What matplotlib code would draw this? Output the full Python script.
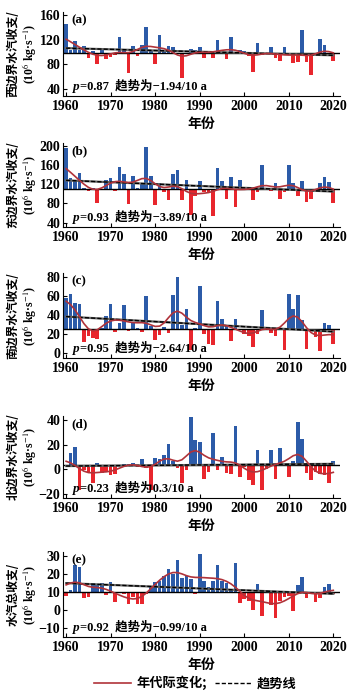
import numpy as np
import matplotlib
matplotlib.use('Agg')
import matplotlib.pyplot as plt
from matplotlib.lines import Line2D

plt.rcParams['font.family'] = ['Liberation Serif', 'Noto Sans CJK SC']
plt.rcParams['mathtext.fontset'] = 'stix'

years = np.arange(1960, 2021)

# boundary moisture budgets, 10^6 kg/s, 1960-2020
west = [146, 104, 118, 104, 110, 90, 101, 80, 104, 88,
        92, 95, 124, 104, 66, 110, 94, 111, 140, 104,
        80, 128, 101, 110, 108, 96, 58, 97, 105, 104,
        108, 91, 97, 90, 120, 99, 88, 125, 100, 103,
        102, 94, 67, 114, 95, 97, 108, 91, 86, 108,
        97, 82, 84, 135, 83, 63, 97, 121, 112, 99,
        85]
east = [195, 134, 128, 144, 112, 105, 112, 81, 110, 128,
        134, 105, 157, 142, 78, 137, 112, 120, 198, 138,
        76, 123, 104, 88, 142, 149, 87, 129, 55, 96,
        126, 104, 101, 53, 154, 126, 90, 135, 73, 128,
        112, 113, 88, 104, 161, 112, 106, 123, 90, 104,
        160, 122, 96, 127, 84, 90, 108, 122, 135, 124,
        80]
south = [58, 62, 52, 51, 12, 18, 16, 15, 26, 39,
         51, 22, 31, 50, 23, 33, 26, 22, 60, 28,
         14, 19, 27, 21, 61, 80, 29, 46, 3, 26,
         70, 20, 9, 8, 55, 36, 28, 13, 36, 24,
         20, 18, 6, 20, 45, 27, 21, 18, 26, 3,
         62, 46, 61, 35, 4, 23, 17, 2, 31, 29,
         9]
north = [3, 13, 18, -17, -1, -2, -11, 5, -3, -2,
         -5, -4, 3, 4.5, 4.5, 5.5, 2, 8.5, 1, -17,
         9, 8.5, 12, 21, 7, 1, -11, -1, 43, 24,
         22, -8, -2, 30, -1, 10, -3, -4, 35, -6,
         2, -9, -13, 16, -17, 0, 15.5, -8, 17.5, 3,
         -6, 7, 38.6, 24.6, -3, -9, -2, -4, -5, -11,
         7]
total = [8, 11, 25, 24, 6.5, 7, 15, 14, 15, 8.5,
         15.5, 4.5, 9.5, 9, 3.5, 7, 3.5, 3.5, 9, 13,
         15.5, 16, 19, 23, 20, 28, 18, 19, 17, 9,
         31, 16, 13, 16, 25, 16, 15, 11, 26, 4,
         6, 5, 0, 14.6, -3.5, 11, 3, -4.5, 5, 7,
         8, -0.5, 14, 18.5, 6.5, 10, 4.5, 6.5, 13, 14.5,
         9]

series = [west, east, south, north, total]
baselines = [98, 110, 25, 3.5, 10]
trend_slopes = [-1.94, -3.89, -2.64, 0.3, -0.99]   # per 10 a
trend_mid = [100.5, 116.5, 30.3, 3.5, 12]          # trend value at 1990
p_values = ['0.87', '0.93', '0.95', '0.23', '0.92']
panel_tags = ['(a)', '(b)', '(c)', '(d)', '(e)']
ylabels = ['西边界水汽收支/', '东边界水汽收支/', '南边界水汽收支/',
           '北边界水汽收支/', '水汽总收支/']
ylims = [(28.6, 165), (31, 206), (-5.3, 84), (-23.5, 43.5), (-15, 32.3)]
yticks = [[40, 80, 120, 160], [40, 80, 120, 160, 200], [0, 20, 40, 60, 80],
          [-20, 0, 20, 40], [-10, 0, 10, 20, 30]]

blue = '#2c5ba8'
red = '#e8262d'
curve_col = '#b0333a'

W, H = 355, 693
fig = plt.figure(figsize=(W / 100, H / 100), dpi=100)

# panel boxes in pixels (top, bottom)
boxes = [(12, 96), (143, 227), (273, 358), (416, 498), (552, 637)]
left_px, right_px = 63, 340


def smooth(v, sigma=2.0):
    v = np.asarray(v, float)
    out = np.empty_like(v)
    idx = np.arange(len(v))
    for i in idx:
        w = np.exp(-0.5 * ((idx - i) / sigma) ** 2)
        out[i] = np.sum(w * v) / np.sum(w)
    return out


for k in range(5):
    top, bot = boxes[k]
    ax = fig.add_axes([left_px / W, 1 - bot / H, (right_px - left_px) / W, (bot - top) / H])
    vals = np.asarray(series[k], float)
    base = baselines[k]
    cols = [blue if v >= base else red for v in vals]
    ax.bar(years, vals - base, bottom=base, width=0.82, color=cols, linewidth=0, zorder=2)
    ax.axhline(base, color='black', lw=1.0, zorder=3)
    trend = trend_mid[k] + trend_slopes[k] / 10 * (years - 1990)
    ax.plot(years, trend, color='#666666', lw=1.6, zorder=4)
    ax.plot(years, trend, color='black', lw=1.0, ls=(0, (3, 1.5)), zorder=4)
    ax.plot(years, smooth(vals), color=curve_col, lw=1.2, zorder=5)

    ax.set_xlim(1959.3, 2021.5)
    ax.set_ylim(*ylims[k])
    ax.set_yticks(yticks[k])
    ax.set_xticks([1960, 1970, 1980, 1990, 2000, 2010, 2020])
    for s in ['top', 'right']:
        ax.spines[s].set_visible(False)
    ax.tick_params(direction='in', length=3, width=0.8, pad=2)
    ax.tick_params(axis='x', pad=3)
    for lab in ax.get_xticklabels() + ax.get_yticklabels():
        lab.set_fontsize(10)
        lab.set_fontweight('bold')
        lab.set_family('Liberation Serif')

    ax.text(0.03, 0.97, panel_tags[k], transform=ax.transAxes, fontsize=9.5,
            fontweight='bold', va='top', ha='left', family='Liberation Serif')

    # p-value and trend note, italic p followed by plain text
    tp = ax.text(0.036, 0.04, 'p', transform=ax.transAxes, fontsize=9.5,
                 fontstyle='italic', fontweight='bold', va='bottom', ha='left',
                 family='Liberation Serif')
    note = '=' + p_values[k] + '  趋势为' + \
        ('−' if trend_slopes[k] < 0 else '') + f'{abs(trend_slopes[k])}/10 a'
    ax.annotate(note, xy=(1, 0), xycoords=tp, xytext=(0.5, 0),
                textcoords='offset points', fontsize=9, fontweight='bold',
                va='bottom', ha='left',
                family=['Liberation Serif', 'Noto Sans CJK SC'])

    ax.text(-0.18, 0.5, ylabels[k], transform=ax.transAxes, rotation=90,
            fontsize=8.5, fontweight='bold', va='center', ha='center',
            family=['Noto Sans CJK SC'])
    ax.text(-0.122, 0.5, r'(10$^6$ kg·s$^{-1}$)', transform=ax.transAxes, rotation=90,
            fontsize=8.5, fontweight='bold', va='center', ha='center',
            family=['Liberation Serif', 'Noto Sans CJK SC'])
    ax.set_xlabel('年份', fontsize=10, fontweight='bold', family=['Noto Sans CJK SC'],
                  labelpad=3)

handles = [Line2D([], [], color=curve_col, lw=1.2),
           Line2D([], [], color='black', lw=1.0, ls=(0, (3, 1.5)))]
fig.legend(handles, ['年代际变化;', '趋势线'], loc='center',
           bbox_to_anchor=(0.55, 1 - 683 / H), ncol=2, frameon=False,
           prop={'family': 'Noto Sans CJK SC', 'weight': 'bold', 'size': 9.5},
           handlelength=2.8, columnspacing=0.6, handletextpad=0.4)

fig.savefig('out.png', dpi=100)
